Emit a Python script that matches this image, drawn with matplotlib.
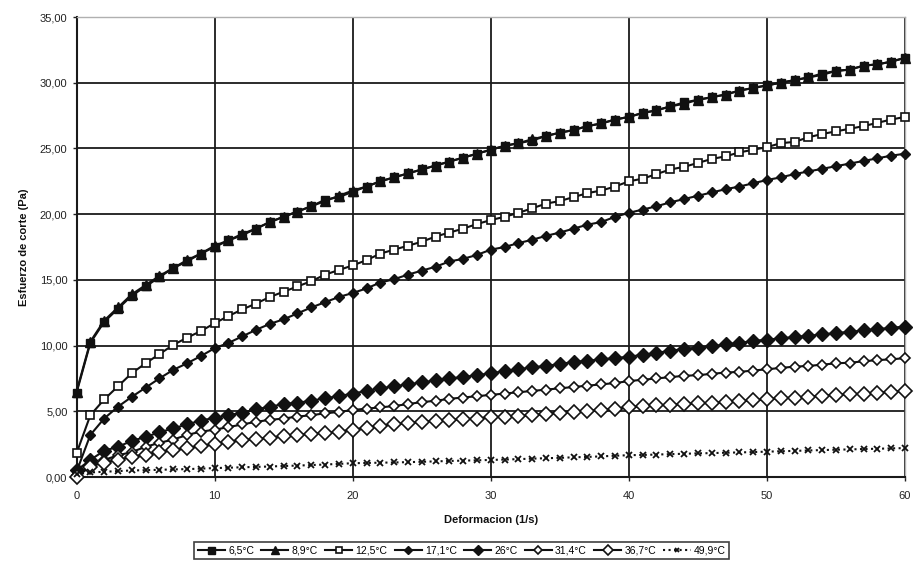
import matplotlib
matplotlib.use("Agg")
import matplotlib.pyplot as plt

plt.rcParams['font.family'] = ['Liberation Sans', 'DejaVu Sans']

# ---- data ----
deformacion = list(range(0, 61))

t_6_5 = [6.4, 10.2, 11.8, 12.8, 13.8, 14.5, 15.2, 15.9, 16.4, 17.0,
         17.5, 18.0, 18.4, 18.9, 19.4, 19.8, 20.2, 20.6, 21.1, 21.3,
         21.7, 22.1, 22.5, 22.8, 23.1, 23.4, 23.7, 24.0, 24.3, 24.6,
         24.9, 25.2, 25.4, 25.6, 25.95, 26.2, 26.4, 26.7, 26.9, 27.2,
         27.4, 27.7, 27.9, 28.2, 28.5, 28.7, 28.9, 29.1, 29.4, 29.6,
         29.8, 30.0, 30.2, 30.4, 30.7, 30.9, 31.0, 31.3, 31.4, 31.6, 31.9]

t_8_9 = [6.5, 10.3, 11.9, 12.9, 13.9, 14.6, 15.3, 15.9, 16.5, 17.0,
         17.6, 18.0, 18.5, 18.9, 19.4, 19.8, 20.2, 20.6, 21.0, 21.4,
         21.8, 22.1, 22.5, 22.8, 23.1, 23.4, 23.7, 24.0, 24.3, 24.6,
         24.9, 25.2, 25.4, 25.7, 25.95, 26.2, 26.4, 26.7, 26.9, 27.2,
         27.4, 27.7, 27.9, 28.2, 28.4, 28.7, 28.9, 29.1, 29.4, 29.6,
         29.8, 30.0, 30.2, 30.4, 30.6, 30.9, 31.0, 31.3, 31.4, 31.6, 31.9]

t_12_5 = [1.8, 4.7, 5.9, 6.9, 7.9, 8.65, 9.35, 10.05, 10.6, 11.1,
          11.7, 12.25, 12.75, 13.2, 13.7, 14.1, 14.5, 14.9, 15.4, 15.75,
          16.1, 16.5, 17.0, 17.3, 17.6, 17.9, 18.3, 18.6, 18.9, 19.25,
          19.55, 19.8, 20.1, 20.45, 20.8, 21.0, 21.3, 21.6, 21.8, 22.1,
          22.5, 22.7, 23.05, 23.4, 23.6, 23.9, 24.2, 24.4, 24.7, 24.9,
          25.1, 25.4, 25.5, 25.85, 26.1, 26.3, 26.5, 26.7, 26.95, 27.2, 27.4]

t_17_1 = [0.4, 3.2, 4.45, 5.35, 6.1, 6.8, 7.5, 8.15, 8.65, 9.2,
          9.8, 10.2, 10.7, 11.2, 11.65, 12.0, 12.45, 12.9, 13.3, 13.7,
          14.0, 14.35, 14.8, 15.05, 15.4, 15.7, 16.0, 16.4, 16.6, 16.9,
          17.3, 17.5, 17.8, 18.05, 18.35, 18.6, 18.9, 19.2, 19.4, 19.8,
          20.1, 20.35, 20.6, 20.9, 21.15, 21.4, 21.65, 21.9, 22.1, 22.35,
          22.6, 22.8, 23.05, 23.25, 23.45, 23.65, 23.85, 24.05, 24.25, 24.45, 24.6]

t_26 = [0.5, 1.3, 2.0, 2.3, 2.75, 3.05, 3.4, 3.7, 4.0, 4.3,
        4.5, 4.7, 4.9, 5.15, 5.35, 5.55, 5.65, 5.8, 6.0, 6.15,
        6.35, 6.55, 6.75, 6.9, 7.05, 7.2, 7.35, 7.5, 7.6, 7.75,
        7.9, 8.05, 8.2, 8.35, 8.45, 8.6, 8.75, 8.85, 8.95, 9.05,
        9.15, 9.3, 9.45, 9.6, 9.75, 9.85, 9.95, 10.1, 10.2, 10.35,
        10.45, 10.55, 10.65, 10.75, 10.85, 10.95, 11.05, 11.15, 11.25, 11.35, 11.45]

t_31_4 = [0.15, 0.9, 1.3, 1.65, 1.9, 2.3, 2.6, 2.85, 3.2, 3.45,
          3.6, 3.8, 4.0, 4.2, 4.35, 4.45, 4.6, 4.7, 4.85, 4.95,
          5.1, 5.2, 5.3, 5.4, 5.55, 5.7, 5.8, 5.95, 6.05, 6.15,
          6.25, 6.35, 6.45, 6.55, 6.65, 6.75, 6.85, 6.95, 7.05, 7.15,
          7.3, 7.4, 7.5, 7.6, 7.7, 7.75, 7.85, 7.95, 8.0, 8.1,
          8.2, 8.3, 8.4, 8.45, 8.55, 8.65, 8.7, 8.8, 8.9, 8.95, 9.05]

t_36_7 = [0.0, 0.8, 1.1, 1.3, 1.55, 1.7, 1.9, 2.05, 2.2, 2.35,
          2.5, 2.7, 2.8, 2.9, 3.0, 3.1, 3.2, 3.3, 3.35, 3.45,
          3.6, 3.75, 3.9, 4.0, 4.1, 4.2, 4.3, 4.35, 4.4, 4.45,
          4.55, 4.6, 4.65, 4.7, 4.8, 4.9, 4.95, 5.05, 5.1, 5.2,
          5.3, 5.4, 5.45, 5.5, 5.55, 5.6, 5.65, 5.7, 5.75, 5.85,
          5.9, 6.0, 6.05, 6.1, 6.2, 6.25, 6.3, 6.35, 6.4, 6.5, 6.55]

t_49_9 = [0.2, 0.35, 0.4, 0.45, 0.5, 0.52, 0.55, 0.58, 0.6, 0.64,
          0.68, 0.71, 0.74, 0.77, 0.8, 0.84, 0.87, 0.91, 0.95, 1.0,
          1.05, 1.07, 1.09, 1.11, 1.13, 1.16, 1.19, 1.22, 1.25, 1.27,
          1.3, 1.33, 1.36, 1.4, 1.43, 1.46, 1.5, 1.53, 1.57, 1.62,
          1.66, 1.68, 1.71, 1.74, 1.77, 1.8, 1.82, 1.85, 1.87, 1.9,
          1.93, 1.96, 1.99, 2.02, 2.05, 2.08, 2.1, 2.13, 2.15, 2.18, 2.2]

series_labels = ["6,5°C", "8,9°C", "12,5°C", "17,1°C", "26°C", "31,4°C", "36,7°C", "49,9°C"]
x_ticks = [0, 10, 20, 30, 40, 50, 60]
y_ticks = [0, 5, 10, 15, 20, 25, 30, 35]
x_label = "Deformacion (1/s)"
y_label = "Esfuerzo de corte (Pa)"

# ---- drawing ----
fig = plt.figure(figsize=(9.22, 5.75), dpi=100)
ax = fig.add_axes([0.083, 0.1704, 0.8986, 0.80])

styles = [
    dict(marker='s', ms=6.3, mfc='#111111', mec='#111111', ls='-'),
    dict(marker='^', ms=7.0, mfc='#111111', mec='#111111', ls='-'),
    dict(marker='s', ms=6.0, mfc='white', mec='#111111', mew=1.2, ls='-'),
    dict(marker='D', ms=5.2, mfc='#111111', mec='#111111', ls='-'),
    dict(marker='D', ms=7.0, mfc='#111111', mec='#111111', ls='-'),
    dict(marker='D', ms=5.2, mfc='white', mec='#111111', mew=1.2, ls='-'),
    dict(marker='D', ms=7.0, mfc='white', mec='#111111', mew=1.2, ls='-'),
    dict(marker='x', ms=3.8, mfc='#111111', mec='#111111', mew=1.3, ls=':'),
]
data = [t_6_5, t_8_9, t_12_5, t_17_1, t_26, t_31_4, t_36_7, t_49_9]

for vals, lab, st in zip(data, series_labels, styles):
    ax.plot(deformacion, vals, color='#111111', lw=1.5, label=lab, zorder=3,
            clip_on=False, **st)

ax.set_xlim(0, 60)
ax.set_ylim(0, 35)
ax.set_xticks(x_ticks)
ax.set_yticks(y_ticks)
ax.set_xticklabels([str(v) for v in x_ticks])
ax.set_yticklabels([f"{v:.2f}".replace('.', ',') for v in y_ticks])
ax.tick_params(axis='both', labelsize=8, direction='out', length=3, width=1,
               color='#222222', labelcolor='#222222')
ax.tick_params(axis='x', pad=7)

ax.grid(True, color='#1a1a1a', lw=1.3, zorder=1)
for s in ['left', 'bottom']:
    ax.spines[s].set_color('#1a1a1a')
    ax.spines[s].set_linewidth(1.5)
for s in ['top', 'right']:
    ax.spines[s].set_color('#b0b0b0')
    ax.spines[s].set_linewidth(1.0)

ax.set_xlabel(x_label, fontsize=8, fontweight='bold', labelpad=10, color='#111111')
ax.set_ylabel(y_label, fontsize=8, fontweight='bold', labelpad=8, color='#111111')

leg = ax.legend(loc='upper center', bbox_to_anchor=(0.465, -0.13), ncol=8,
                fontsize=7.5, frameon=True, fancybox=False, edgecolor='#111111',
                handlelength=2.6, handletextpad=0.3, columnspacing=0.7,
                borderpad=0.35, markerscale=0.8)
leg.get_frame().set_linewidth(1.2)

fig.savefig("out.png", dpi=100, facecolor='white')
